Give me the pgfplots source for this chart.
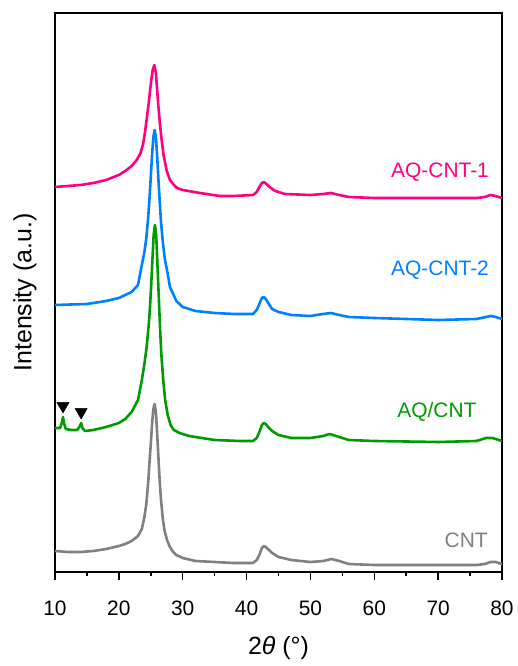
\documentclass[border=0pt]{standalone}
\usepackage{pgfplots}
\pgfplotsset{compat=1.18}
\usepackage{fontspec}
\setmainfont{Liberation Sans}
\definecolor{cpink}{RGB}{255,0,128}
\definecolor{cblue}{RGB}{0,128,255}
\definecolor{cgreen}{RGB}{0,155,0}
\definecolor{cgray}{RGB}{128,128,128}
\begin{document}
\begin{tikzpicture}
\begin{axis}[
  scale only axis, width=447bp, height=559bp,
  xmin=10, xmax=80, ymin=0, ymax=559,
  xtick={10,20,...,80}, minor x tick num=1,
  ytick=\empty,
  xtick pos=left, tick align=outside,
  major tick length=8bp, minor tick length=4bp,
  axis line style={line width=1.5bp},
  every tick/.style={black, line width=1.5bp},
  /pgf/number format/assume math mode=true,
  xticklabel style={font=\fontsize{21}{21}\selectfont, yshift=-17bp},
  xlabel={2\textit{θ} (°)},
  ylabel={Intensity (a.u.)},
  xlabel style={font=\fontsize{25}{25}\selectfont, at={(axis description cs:0.5,-0.136)}, anchor=center},
  ylabel style={font=\fontsize{25}{25}\selectfont, at={(axis description cs:-0.067,0.5)}, anchor=center, rotate=0},
  every axis plot/.append style={line width=2.6bp, line join=round},
  clip=false,
]
% CNT
\addplot[cgray, mark=none] coordinates {
(10,21)(12,20)(14,20)(16,21)(18,23)(20,26)(21,28)(22,31)(23,36)(23.6,43)(24.0,55)(24.3,68)(24.6,90)(24.8,110)(25.0,128)(25.2,148)(25.4,163)(25.6,168)(25.8,160)(26.0,138)(26.2,114)(26.4,91)(26.6,72)(26.9,52)(27.2,40)(27.6,31)(28.0,25)(28.5,20)(29,17)(30,14)(32,11)(35,10)(38,9)(41,9)(41.6,12)(42.0,17)(42.4,24)(42.7,26)(43.0,25)(43.5,22)(44,19)(45,15)(47,12)(50,10)(52,11)(53.3,13)(54.5,11)(56,8)(60,7)(70,7)(76,7)(77.3,8)(78.2,10)(79,10)(80,8)
};
% AQ/CNT
\addplot[cgreen, mark=none] coordinates {
(10,144)(10.8,144)(11.1,150)(11.25,155)(11.4,149)(11.7,143)(12.5,142)(13.5,142)(13.9,146)(14.1,149)(14.3,144)(14.7,141)(16,142)(18,145)(20,149)(21,153)(22,160)(23,172)(23.6,192)(24.0,208)(24.35,225)(24.65,245)(24.85,262)(25.05,285)(25.25,312)(25.45,337)(25.65,347)(25.85,337)(26.05,306)(26.25,276)(26.45,244)(26.65,218)(26.95,192)(27.25,172)(27.65,157)(28.1,147)(28.6,142)(29.5,139)(31,136)(33,134)(35,132)(39,131)(41,131)(41.6,134)(42.0,140)(42.4,147)(42.7,149)(43.0,148)(43.5,144)(44,141)(45,137)(47,134)(50,134)(52,136)(53,138)(54.5,135)(56,132)(60,131)(70,130)(76,131)(77.5,134)(78.5,134)(80,131)
};
\addplot[only marks, mark=triangle*, mark size=7bp, mark options={rotate=180, fill=black, draw=black, line width=0.5bp}] coordinates {(11.25,166) (14.1,160)};
% AQ-CNT-2
\addplot[cblue, mark=none] coordinates {
(10,267)(15,268)(18,271)(20,274)(22,280)(23,287)(23.6,307)(24.0,320)(24.3,334)(24.6,355)(24.8,374)(25.0,395)(25.2,417)(25.4,435)(25.6,442)(25.8,435)(26.0,416)(26.2,392)(26.4,370)(26.6,350)(26.9,329)(27.2,313)(27.6,300)(28,285)(29,271)(30,265)(32,261)(35,259)(38,258)(41,258)(41.6,262)(42,268)(42.4,274)(42.7,275)(43.0,273)(43.5,268)(44,263)(45,260)(47,257)(50,256)(52,258)(53.2,259)(54.5,257)(56,255)(60,254)(70,252)(76,253)(77.5,255)(78.3,256)(79,255)(80,253)
};
% AQ-CNT-1
\addplot[cpink, mark=none] coordinates {
(10,385)(12,386)(14,387)(16,389)(18,392)(20,397)(21,401)(22,406)(22.8,412)(23.4,419)(23.8,428)(24.1,440)(24.4,455)(24.7,470)(24.9,482)(25.1,493)(25.3,502)(25.55,507)(25.8,499)(26.0,482)(26.2,465)(26.45,447)(26.7,432)(27.0,417)(27.5,401)(28.0,392)(28.5,388)(29.1,384)(30,382)(32.7,379)(35.8,376)(38,376)(41,377)(41.6,380)(42.0,385)(42.4,389)(42.7,390)(43.1,388)(43.6,385)(44.5,381)(46,378)(50,377)(52,378)(53.2,379)(54.5,377)(56,375)(60,374)(70,374)(76,374)(77.3,375)(78.2,377)(79,376)(80,374)
};
\node[font=\fontsize{21}{21}\selectfont, text=cpink] at (axis cs:70.3,400) {AQ-CNT-1};
\node[font=\fontsize{21}{21}\selectfont, text=cblue] at (axis cs:70.3,302) {AQ-CNT-2};
\node[font=\fontsize{21}{21}\selectfont, text=cgreen] at (axis cs:69.8,160) {AQ/CNT};
\node[font=\fontsize{21}{21}\selectfont, text=cgray] at (axis cs:74.4,32) {CNT};
\end{axis}
\pgfresetboundingbox
\path[use as bounding box] ([shift={(-55bp,-94bp)}]current axis.south west) rectangle ([shift={(16bp,13bp)}]current axis.north east);
\end{tikzpicture}
\end{document}
